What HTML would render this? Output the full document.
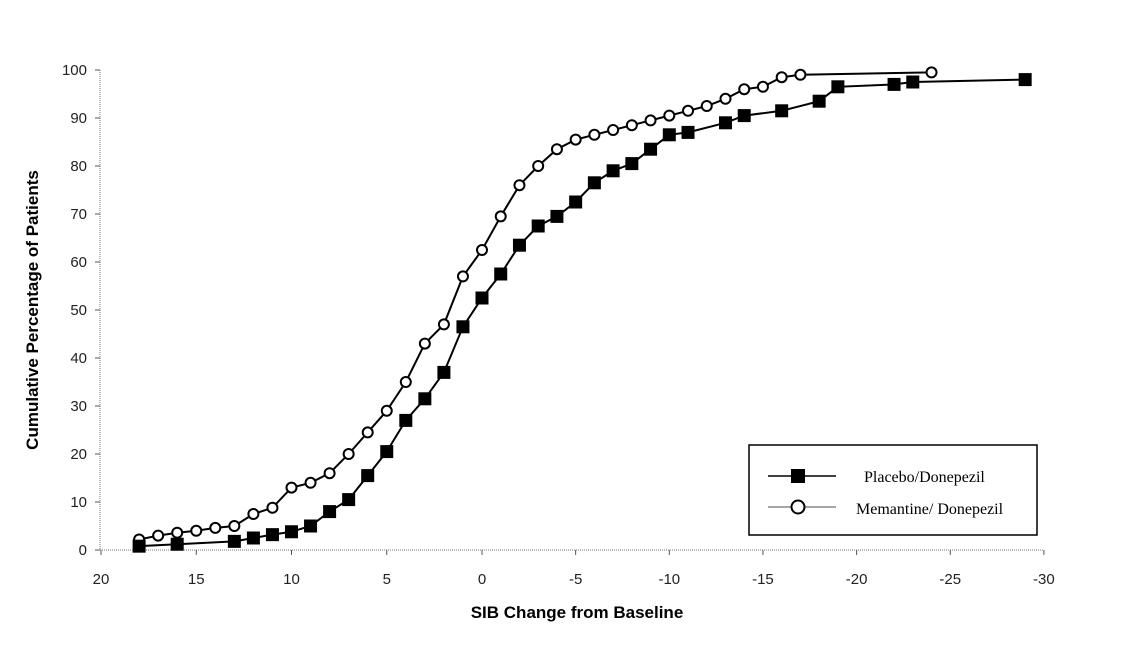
<!DOCTYPE html>
<html><head><meta charset="utf-8"><style>
html,body{margin:0;padding:0;background:#fff;width:1129px;height:647px;overflow:hidden}
text{font-family:"Liberation Sans",Arial,sans-serif}
</style></head><body>
<svg id="s" width="1129" height="647" xmlns="http://www.w3.org/2000/svg">
<g id="g"></g>
<rect x="749" y="445" width="288" height="90" fill="#fff" stroke="#000" stroke-width="1.5"/>
<line x1="768" y1="476" x2="836" y2="476" stroke="#000" stroke-width="1.5"/>
<rect x="791" y="469" width="14" height="14" fill="#000"/>
<line x1="768" y1="507" x2="836" y2="507" stroke="#888" stroke-width="1.5"/>
<circle cx="798" cy="507" r="6.5" fill="#fff" stroke="#000" stroke-width="2"/>
<text x="864" y="482" font-size="16" style="font-family:'Liberation Serif',serif">Placebo/Donepezil</text>
<text x="856" y="514" font-size="16" style="font-family:'Liberation Serif',serif">Memantine/ Donepezil</text>
<text x="577" y="618" font-size="17" font-weight="bold" text-anchor="middle">SIB Change from Baseline</text>
<text transform="translate(38,310) rotate(-90)" font-size="17" font-weight="bold" text-anchor="middle">Cumulative Percentage of Patients</text>
</svg>
<script>
var X=function(v){return v>=0?482-v*19.05:482-v*18.73},Y=function(p){return 550-p*4.8};
var g=document.getElementById('g'),h='';
h+='<line x1="100" y1="70" x2="100" y2="550" stroke="#777" stroke-width="1" stroke-dasharray="1,1"/>';
h+='<line x1="100" y1="550" x2="1044" y2="550" stroke="#777" stroke-width="1" stroke-dasharray="1,1"/>';
for(var p=0;p<=100;p+=10){h+='<line x1="95" y1="'+Y(p)+'" x2="100" y2="'+Y(p)+'" stroke="#555"/>';
h+='<text x="87" y="'+(Y(p)+5)+'" font-size="15" text-anchor="end" fill="#222">'+p+'</text>';}
for(var v=20;v>=-30;v-=5){var x=X(v);h+='<line x1="'+x+'" y1="550" x2="'+x+'" y2="555" stroke="#555"/>';
h+='<text x="'+x+'" y="584" font-size="15" text-anchor="middle" fill="#222">'+(v<0?'-'+(-v):v)+'</text>';}
var A=[[18,.8],[16,1.2],[13,1.8],[12,2.5],[11,3.2],[10,3.8],[9,5],[8,8],[7,10.5],[6,15.5],[5,20.5],[4,27],[3,31.5],[2,37],[1,46.5],[0,52.5],[-1,57.5],[-2,63.5],[-3,67.5],[-4,69.5],[-5,72.5],[-6,76.5],[-7,79],[-8,80.5],[-9,83.5],[-10,86.5],[-11,87],[-13,89],[-14,90.5],[-16,91.5],[-18,93.5],[-19,96.5],[-22,97],[-23,97.5],[-29,98]];
var B=[[18,2.2],[17,3],[16,3.6],[15,4],[14,4.6],[13,5],[12,7.5],[11,8.8],[10,13],[9,14],[8,16],[7,20],[6,24.5],[5,29],[4,35],[3,43],[2,47],[1,57],[0,62.5],[-1,69.5],[-2,76],[-3,80],[-4,83.5],[-5,85.5],[-6,86.5],[-7,87.5],[-8,88.5],[-9,89.5],[-10,90.5],[-11,91.5],[-12,92.5],[-13,94],[-14,96],[-15,96.5],[-16,98.5],[-17,99],[-24,99.5]];
function pl(d){return d.map(function(q){return X(q[0])+','+Y(q[1])}).join(' ')}
h+='<polyline points="'+pl(B)+'" fill="none" stroke="#000" stroke-width="2"/>';
h+='<polyline points="'+pl(A)+'" fill="none" stroke="#000" stroke-width="2"/>';
B.forEach(function(q){h+='<circle cx="'+X(q[0])+'" cy="'+Y(q[1])+'" r="5" fill="#fff" stroke="#000" stroke-width="2"/>'});
A.forEach(function(q){h+='<rect x="'+(X(q[0])-6.5)+'" y="'+(Y(q[1])-6.5)+'" width="13" height="13" fill="#000"/>'});
g.innerHTML=h;
</script>
</body></html>
